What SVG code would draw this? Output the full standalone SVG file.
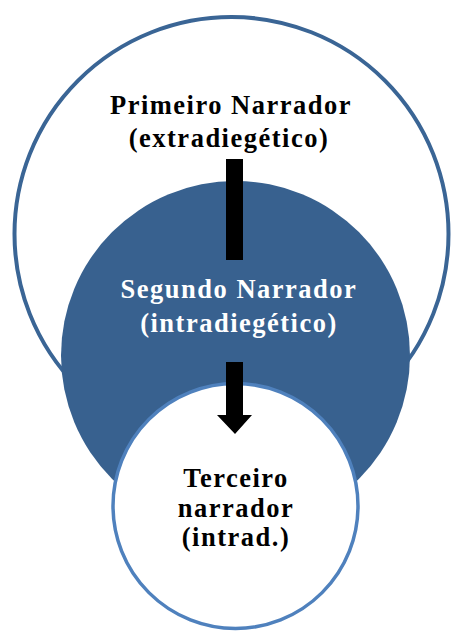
<svg xmlns="http://www.w3.org/2000/svg" width="454" height="632" viewBox="0 0 454 632">
<style>
.lbl{font-family:"Liberation Serif","Times New Roman",serif;font-weight:bold;font-size:26.5px;letter-spacing:1.5px;text-anchor:middle}
.dark{fill:#000}
.light{fill:#fff}
</style>
<rect width="454" height="632" fill="#fff"/>
<g id="primeiro">
<circle cx="231.5" cy="234" r="217" fill="#fff" stroke="#3A6595" stroke-width="4"/>
<text class="lbl dark" x="231" y="114">Primeiro  Narrador</text>
<text class="lbl dark" x="229" y="147">(extradiegético)</text>
</g>
<g id="segundo">
<circle cx="235.5" cy="355.5" r="174.5" fill="#38618F"/>
<text class="lbl light" x="239" y="298">Segundo Narrador</text>
<text class="lbl light" x="239" y="332">(intradiegético)</text>
</g>
<g id="terceiro">
<circle cx="235.5" cy="506" r="122.5" fill="#fff" stroke="#4F81BD" stroke-width="3.5"/>
<text class="lbl dark" x="236" y="487">Terceiro</text>
<text class="lbl dark" x="236" y="517">narrador</text>
<text class="lbl dark" x="236" y="546">(intrad.)</text>
</g>
<g id="connectors" fill="#000">
<rect x="226" y="159" width="17" height="101"/>
<polygon points="226,362 243,362 243,415 252,415 235,434 217,415 226,415"/>
</g>
</svg>
